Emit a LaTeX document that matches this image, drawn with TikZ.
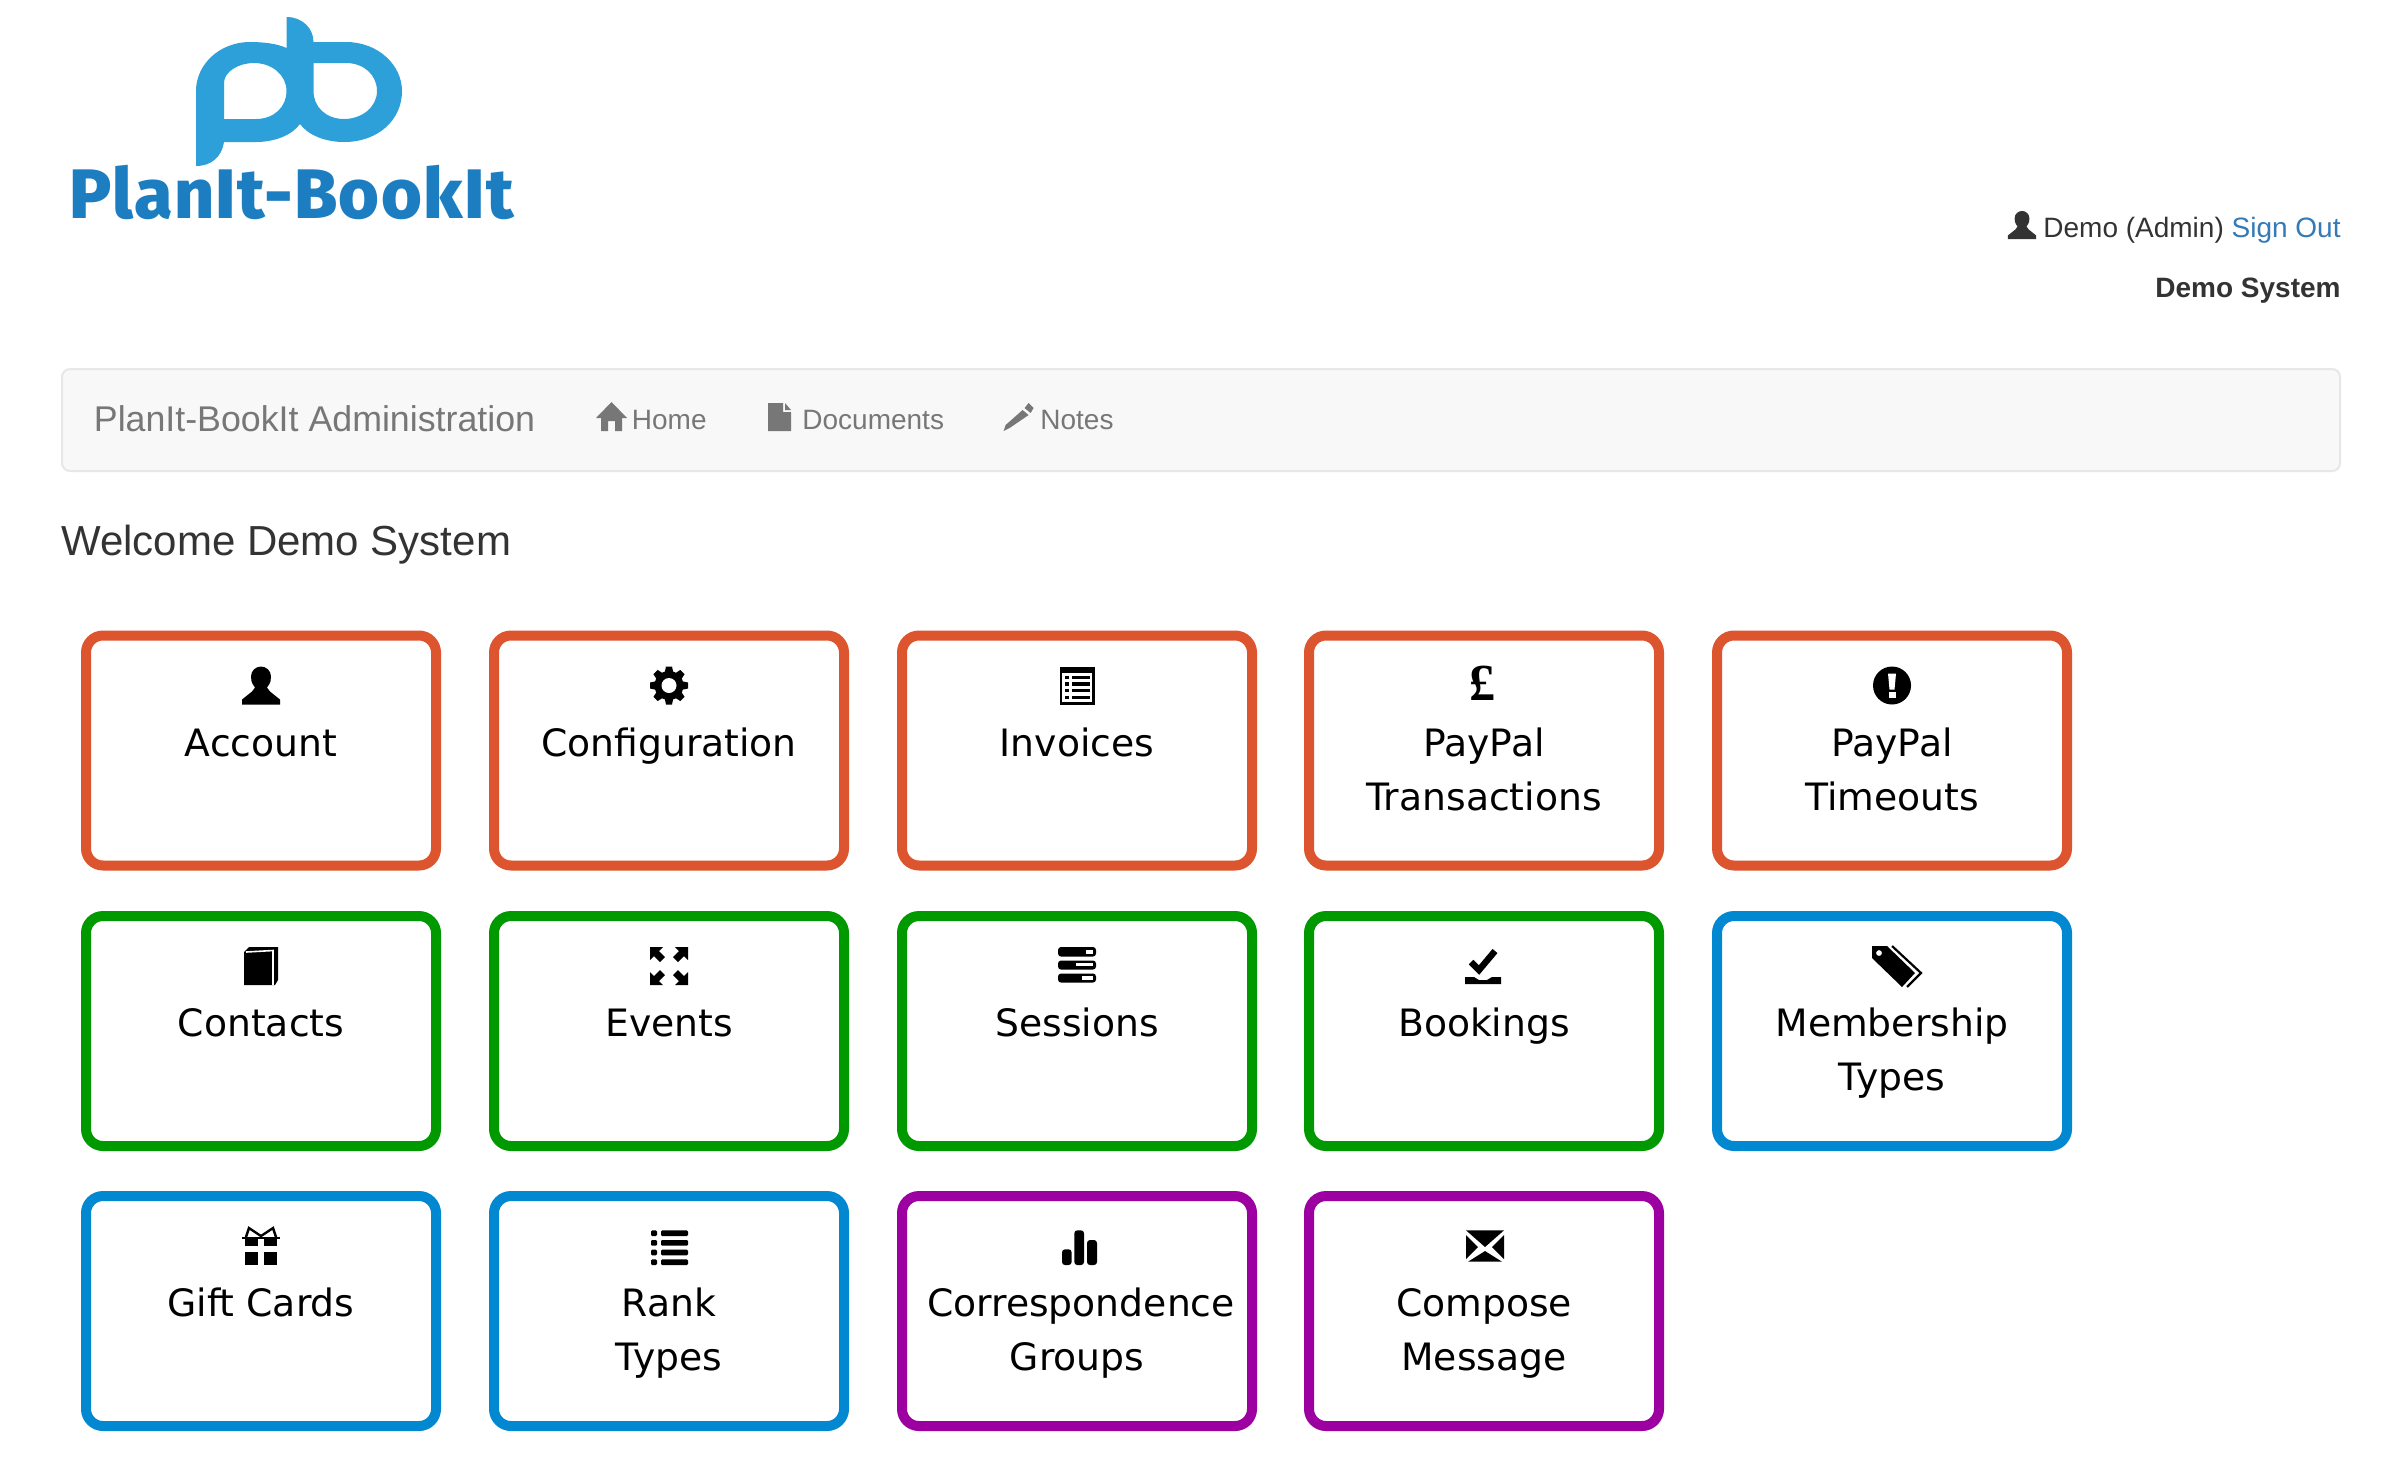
\documentclass[tikz,border=0pt]{standalone}
\usepackage{fontspec}
\setmainfont{Liberation Sans}
\newfontfamily\tilefont{DejaVu Sans}
\newfontfamily\logofont[LetterSpace=2]{Fira Sans ExtraBold}
\newfontfamily\poundfont{Liberation Serif Bold}
\definecolor{cOrange}{HTML}{DC552F}
\definecolor{cGreen}{HTML}{009900}
\definecolor{cBlue}{HTML}{0288D1}
\definecolor{cPurple}{HTML}{9C00A0}
\definecolor{cText}{HTML}{333333}
\definecolor{cNav}{HTML}{777777}
\definecolor{cLink}{HTML}{337AB7}
\definecolor{cLogo}{HTML}{2D9FD9}
\definecolor{cWord}{HTML}{1C7EC1}
\tikzset{
  tilebox/.style={draw=#1,line width=5pt,rounded corners=8.5pt,fill=white,minimum width=175pt,minimum height=115pt,inner sep=0pt},
  tilelabel/.style={anchor=north,inner sep=0pt,align=center,font=\tilefont\fontsize{18.85}{27}\selectfont,text=black},
  hdr/.style={inner sep=0pt,text=cText,font=\fontsize{14}{16}\selectfont},
  navtext/.style={anchor=base west,inner sep=0pt,text=cNav,font=\fontsize{14}{16}\selectfont},
}
\newcommand{\icUser}{\fill (-19,19) -- (-19,14) -- (-9,6) -- (-6,2) .. controls (-10,-3) and (-10,-6) .. (-10,-9) .. controls (-10,-15) and (-5,-19) .. (0,-19) .. controls (5,-19) and (10,-15) .. (10,-9) .. controls (10,-6) and (10,-3) .. (6,2) -- (9,6) -- (19,14) -- (19,19) -- cycle;}
\newcommand{\icCog}{\fill (0,0) circle[radius=14.5];
  \foreach \a in {0,45,...,315} {\fill[rotate=\a] (-3,-19) -- (3,-19) -- (4.5,-12) -- (-4.5,-12) -- cycle;}
  \fill[white] (0,0) circle[radius=7.5];}
\newcommand{\icInvoice}{\fill (-17.5,-19) rectangle (17.5,19);
  \fill[white] (-15,-13) rectangle (15,16.5);
  \foreach \y in {-9.5,-3.2,3.5,10.2} {\fill (-12,\y) rectangle (-8,\y+3.2); \fill (-5,\y) rectangle (12.5,\y+3.2);}}
\newcommand{\icPound}{\node[inner sep=0pt,text=black,font=\poundfont\fontsize{26}{26}\selectfont] (pound) at (-2,-2) {£};}
\newcommand{\icAlert}{\fill (0,0) circle[radius=19];
  \fill[white] (-4,-12) -- (4,-12) -- (2.5,4) -- (-2.5,4) -- cycle;
  \fill[white] (-3.5,6.5) rectangle (3.5,12);}
\newcommand{\icBook}{\fill (-17,19) -- (-17,-14) -- (-12,-19) -- (17,-19) -- (17,14) -- (14,19) -- cycle;
  \draw[white,line width=.8pt] (-15,-14) -- (12,-15.5) -- (12,19);
  \fill (13.5,-14) rectangle (14,14);}
\newcommand{\icFull}{\foreach \a in {0,90,180,270} {\fill[rotate=\a] (-19,-19) -- (-6,-19) -- (-10,-15) -- (-4,-9) -- (-9,-4) -- (-15,-10) -- (-19,-6) -- cycle;}}
\newcommand{\icTasks}{\fill[rounded corners=1.5pt] (-19,-19) rectangle (19,-9.5);
  \fill[rounded corners=1.5pt] (-19,-5.5) rectangle (19,3.5);
  \fill[rounded corners=1.5pt] (-19,7.5) rectangle (19,16.5);
  \fill[white] (9,-16.2) rectangle (16,-12);
  \fill[white] (-1,-3.2) rectangle (16,.2);
  \fill[white] (5,9.8) rectangle (16,13.5);}
\newcommand{\icSaved}{\draw[line width=3.2pt] (-13,-4) -- (-5,4) -- (11,-15);
  \fill (-19,11) -- (-10,11) -- (-5,14) -- (3,14) -- (8,11) -- (17,11) -- (17,18) -- (-19,18) -- cycle;}
\newcommand{\icTags}{\begin{scope}[xshift=2pt]\fill[even odd rule] (-24,-20) -- (-9,-20) -- (19,7) -- (6,21) -- (-24,-8) -- cycle (-17,-13) circle[radius=3];
  \draw[line width=1.1pt] (-4,-20) -- (25,7) -- (11,21);\end{scope}}
\newcommand{\icGift}{\fill (-16,-7.5) rectangle (-3,0); \fill (3,-7.5) rectangle (16,0);
  \fill (-16,6) rectangle (-3,19); \fill (3,6) rectangle (16,19);
  \fill (-19,-9.5) rectangle (19,-7.5);
  \draw[line width=1.2pt] (-15,-9) -- (-12,-18) -- (0,-10) -- (12,-18) -- (15,-9);}
\newcommand{\icList}{\foreach \y in {-15.7,-6,3.7,13.3} {\fill[rounded corners=.6pt] (-18,\y) rectangle (-12,\y+5.7); \fill[rounded corners=.6pt] (-8,\y) rectangle (19,\y+5.7);}}
\newcommand{\icStats}{\fill[rounded corners=1.5pt] (-15,19) -- (-15,3.3) -- (-5.4,3.3) -- (-5.4,19) -- cycle;
  \fill[rounded corners=1.5pt] (-2.7,19) -- (-2.7,-15.7) -- (7,-15.7) -- (7,19) -- cycle;
  \fill[rounded corners=1.5pt] (10,19) -- (10,-6) -- (20,-6) -- (20,19) -- cycle;}
\newcommand{\icMail}{\begin{scope}[xshift=.5pt]
  \fill (-19,-15.7) -- (19,-15.7) -- (0,1) -- cycle;
  \fill (-17,15.7) -- (0,5) -- (17,15.7) -- cycle;
  \fill (-19,-11) -- (-7,1) -- (-19,13) -- cycle;
  \fill (19,-11) -- (7,1) -- (19,13) -- cycle;\end{scope}}
% #1 name, #2 left, #3 top, #4 colour, #5 icon, #6 text, #7 text x shift
\newcommand{\tile}[7]{
  \node[tilebox=#4] (#1) at (#2+180,#3+120) {};
  \begin{scope}[shift={(#2+180,#3+55)},color=black] #5 \end{scope}
  \node[tilelabel] (#1l) at (#2+180+#7,#3+85.5) {\rule{0pt}{20pt}#6};
}
\begin{document}
\begin{tikzpicture}[x=.5pt,y=-.5pt]
\useasboundingbox (0,0) rectangle (2402,1480);
\fill[white] (0,0) rectangle (2402,1480);
% logo
\fill[cLogo,even odd rule]
  (286.5,17) .. controls (302,17) and (313.5,28) .. (313.5,42)
  -- (346,42) .. controls (378,42) and (402,65) .. (402,91)
  .. controls (402,120) and (378,142) .. (344,142)
  .. controls (325,142) and (308,135) .. (300,124)
  .. controls (292,135) and (275,142) .. (256,142)
  -- (224,142) .. controls (222,156) and (212,166) .. (196,166)
  -- (196,91) .. controls (196,64) and (220,42) .. (250,42)
  .. controls (265,42) and (278,44) .. (286.5,48) -- cycle
  (224,119) -- (256,119) .. controls (274,119) and (286.5,107) .. (286.5,91)
  .. controls (286.5,75) and (272,63) .. (254,63)
  .. controls (238,63) and (224,72) .. (224,83) -- cycle
  (313.5,63) -- (346,63) .. controls (364,63) and (377,75) .. (377,91)
  .. controls (377,107) and (362,119) .. (344,119)
  .. controls (326,119) and (313.5,107) .. (313.5,91) -- cycle;
\node[anchor=base west,inner sep=0pt,text=cWord,font=\logofont\fontsize{35}{35}\selectfont] (wordmark) at (69,218) {PlanIt-BookIt};
% header
\begin{scope}[shift={(2022,225)},scale=.74,color=cText] \icUser \end{scope}
\node[hdr,anchor=base east] (userline) at (2341,237) {Demo (Admin) \textcolor{cLink}{Sign Out}};
\node[hdr,anchor=base east,font=\bfseries\fontsize{14}{16}\selectfont] (sysname) at (2341,297) {Demo System};
% navbar
\node[draw=black!9.5,line width=1pt,fill=black!2.7,rounded corners=4pt,minimum width=1139pt,minimum height=51pt,inner sep=0pt] (navbar) at (1201,420) {};
\node[anchor=base west,inner sep=0pt,text=cNav,font=\fontsize{17.88}{20}\selectfont] (brand) at (93.5,431) {PlanIt-BookIt Administration};
\begin{scope}[xshift=-1pt]
\fill[cNav] (613.5,402) -- (629,418) -- (624,418) -- (624,431) -- (617,431) -- (617,421) -- (610,421) -- (610,431) -- (603,431) -- (603,418) -- (598,418) -- cycle;
\end{scope}
\node[navtext] (home) at (631.5,429) {Home};
\begin{scope}[xshift=-2pt]
\fill[cNav] (772,403) -- (787,403) -- (787,412) -- (795,412) -- (795,431) -- (772,431) -- cycle;
\fill[cNav] (789,403) -- (795,410) -- (789,410) -- cycle;
\end{scope}
\node[navtext] (docs) at (802,429) {Documents};
\begin{scope}[xshift=-2.2pt]
\fill[cNav] (1033,403) -- (1038,408) -- (1035,413) -- (1029,408) -- cycle;
\fill[cNav] (1027,410) -- (1033,415) -- (1014,428) -- (1008,431) -- (1010,425) -- cycle;
\end{scope}
\node[navtext] (notes) at (1040,429) {Notes};
\node[anchor=base west,inner sep=0pt,text=cText,font=\fontsize{21}{24}\selectfont] (welcome) at (61,555.5) {Welcome Demo System};
% tiles
\tile{account}{81}{630.5}{cOrange}{\icUser}{Account}{0}
\tile{config}{489}{630.5}{cOrange}{\icCog}{Configuration}{0}
\tile{invoices}{897}{630.5}{cOrange}{\icInvoice}{Invoices}{0}
\tile{paypaltx}{1304}{630.5}{cOrange}{\icPound}{PayPal\\Transactions}{0}
\tile{paypalto}{1712}{630.5}{cOrange}{\icAlert}{PayPal\\Timeouts}{0}
\tile{contacts}{81}{911}{cGreen}{\icBook}{Contacts}{0}
\tile{events}{489}{911}{cGreen}{\icFull}{Events}{0}
\tile{sessions}{897}{911}{cGreen}{\icTasks}{Sessions}{0}
\tile{bookings}{1304}{911}{cGreen}{\icSaved}{Bookings}{0}
\tile{member}{1712}{911}{cBlue}{\icTags}{Membership\\Types}{0}
\tile{gift}{81}{1191}{cBlue}{\icGift}{Gift Cards}{0}
\tile{rank}{489}{1191}{cBlue}{\icList}{Rank\\Types}{0}
\node[tilebox=cPurple] (corr) at (1077,1311) {};
\begin{scope}[shift={(1077,1246)},color=black] \icStats \end{scope}
\node[tilelabel] (corrl) at (1081,1276.5) {\rule{0pt}{20pt}Correspondence\\\hspace*{-4pt}Groups};
\tile{compose}{1304}{1191}{cPurple}{\icMail}{Compose\\Message}{0}
\end{tikzpicture}
\end{document}
